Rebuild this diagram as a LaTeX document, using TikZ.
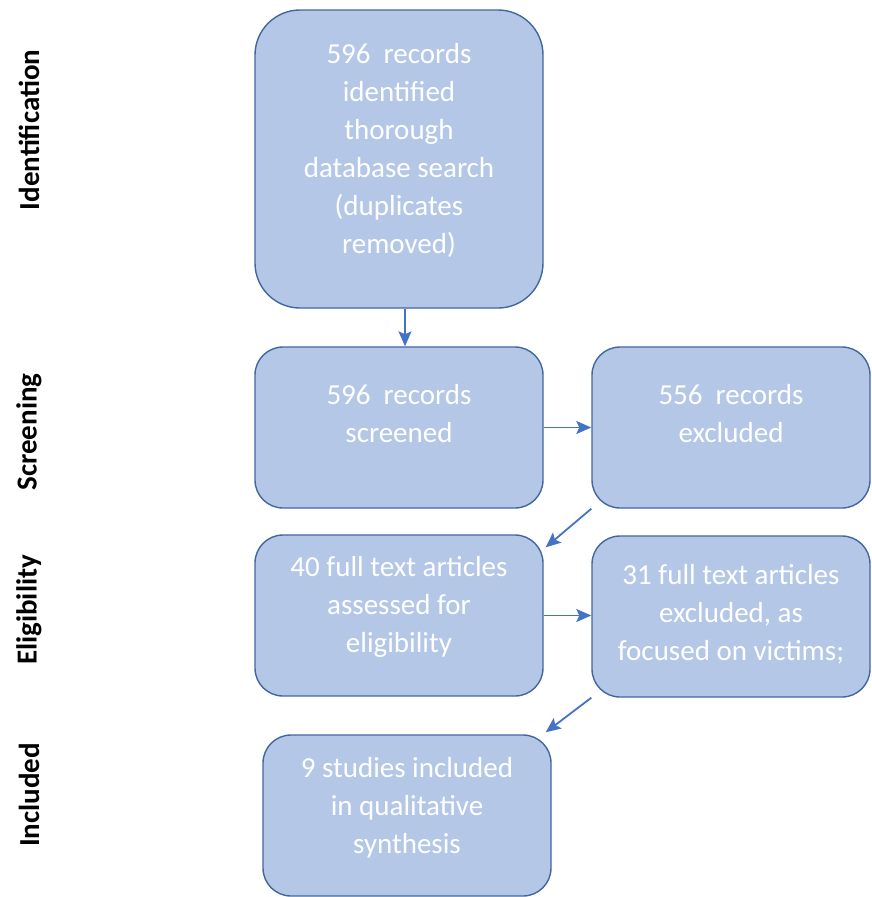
\documentclass[tikz,border=0pt]{standalone}
\usepackage{fontspec}
\setmainfont{Carlito}
\usetikzlibrary{arrows.meta,calc}
\definecolor{boxfill}{HTML}{B4C7E7}
\definecolor{boxline}{HTML}{41679E}
\definecolor{arrowblue}{HTML}{4472C4}
\tikzset{
  flowbox/.style={draw=boxline, fill=boxfill, line width=1.4pt, rounded corners=28pt, inner sep=0pt},
  bigbox/.style={flowbox, rounded corners=45pt},
  boxtext/.style={text=white, align=center, font=\fontsize{29}{38}\selectfont, inner sep=0pt},
  stage/.style={rotate=90, font=\fontsize{29}{35}\selectfont\bfseries, inner sep=0pt},
  flow/.style={draw=arrowblue, line width=1.8pt, -{Stealth[length=15pt,width=13pt,inset=3pt]}}
}
\begin{document}
\begin{tikzpicture}[x=1pt,y=-1pt]
\useasboundingbox (0,0) rectangle (871,897);

% stage labels on the left
\node[stage] (lid) at (29,130) {Identification};
\node[stage] (lsc) at (29,432) {Screening};
\node[stage] (lel) at (29,610) {Eligibility};
\node[stage] (lin) at (29,795) {Included};

% boxes
\node[bigbox, minimum width=288pt, minimum height=298pt] (b1) at (399,159) {};
\node[flowbox, minimum width=288pt, minimum height=161pt] (b2) at (399,427.5) {};
\node[flowbox, minimum width=278pt, minimum height=161pt] (b3) at (731,427.5) {};
\node[flowbox, minimum width=288pt, minimum height=161pt] (b4) at (399,615.5) {};
\node[flowbox, minimum width=278pt, minimum height=161pt] (b5) at (731,616.5) {};
\node[flowbox, minimum width=288pt, minimum height=161pt] (b6) at (407,815.5) {};

% box texts
\node[boxtext] (t1) at (399,150) {596\ \ records\\identified\\thorough\\database search\\(duplicates\\removed)};
\node[boxtext] (t2) at (399,414) {596\ \ records\\screened};
\node[boxtext] (t3) at (731,414) {556\ \ records\\excluded};
\node[boxtext] (t4) at (399,607) {40 full text articles\\assessed for\\eligibility};
\node[boxtext] (t5) at (731,614) {31 full text articles\\excluded, as\\focused on victims;};
\node[boxtext] (t6) at (407,808) {9 studies included\\in qualitative\\synthesis};

% connectors
\draw[flow] ([xshift=6pt]b1.south) -- ([xshift=6pt]b2.north);
\draw[flow] (b2.east) -- (b2.east -| b3.west);
\draw[flow] (b3.south west) -- ($(b4.north east)+(2,13)$);
\draw[flow] (b4.east) -- (b4.east -| b5.west);
\draw[flow] (b5.south west) -- ($(b6.north east)+(-6,-2)$);
\end{tikzpicture}
\end{document}
